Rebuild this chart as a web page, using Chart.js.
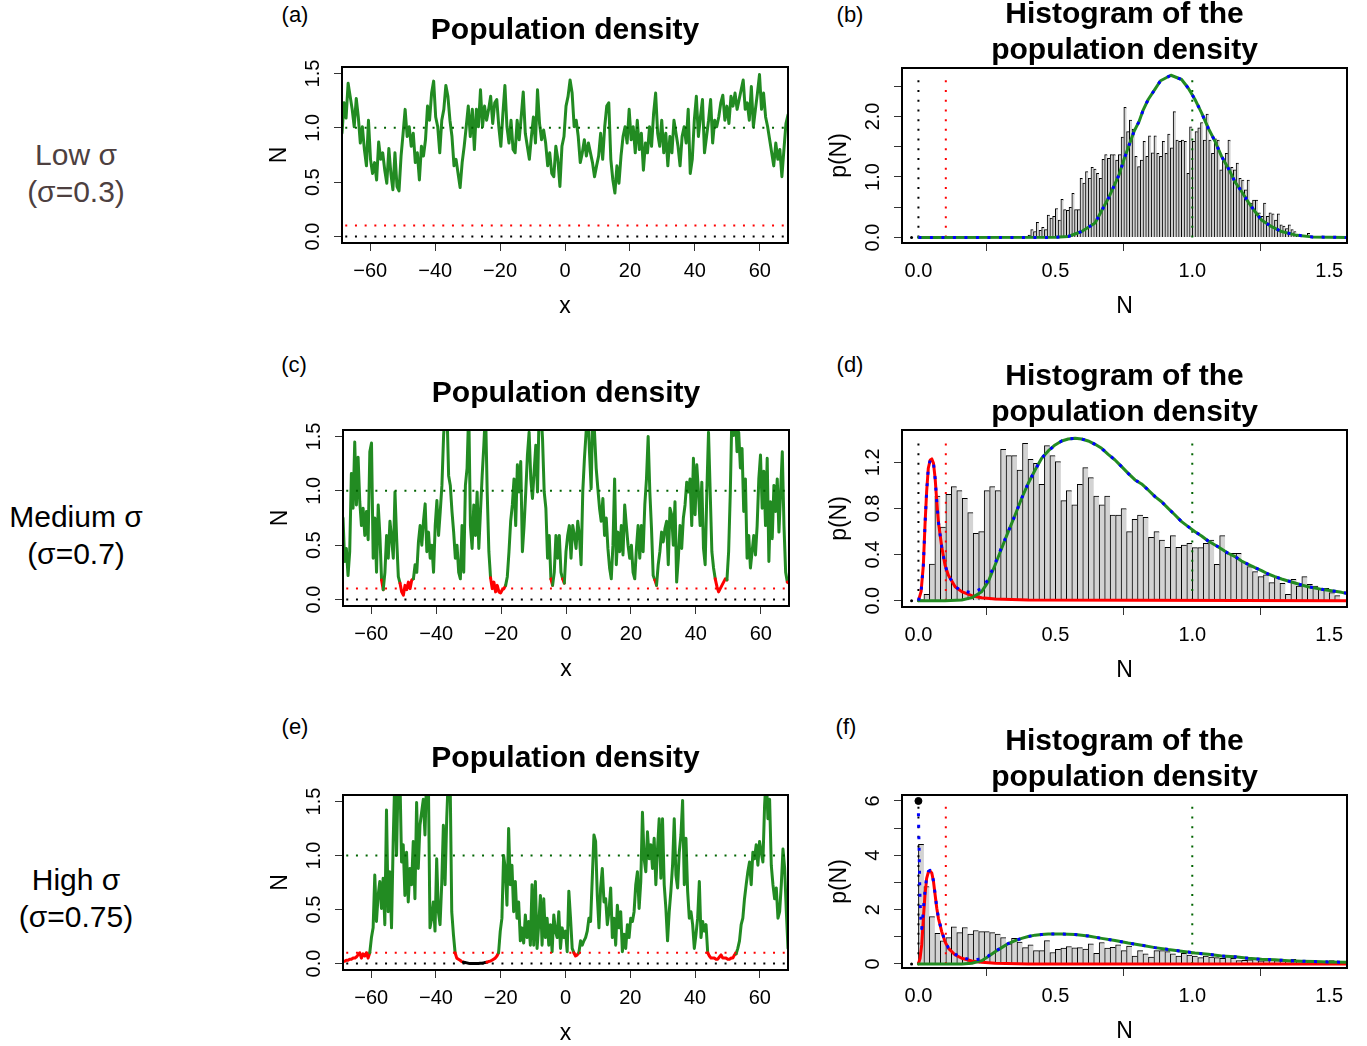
<!DOCTYPE html>
<html>
<head>
<meta charset="utf-8">
<title>Population density</title>
<script src="https://cdn.jsdelivr.net/npm/chart.js@4.4.1/dist/chart.umd.min.js"></script>
<style>
  body { margin: 0; background: #fff; }
  #page { position: relative; width: 1367px; height: 1046px; overflow: hidden; background: #fff;
          font-family: "Liberation Sans", Arial, Helvetica, sans-serif; color: #000; }
  #page canvas { position: absolute; }
  .txt { position: absolute; transform: translate(-50%, -50%); white-space: nowrap; text-align: center; }
  .row { font-size: 30px; line-height: 37px; }
  .tag { font-size: 22px; }
</style>
</head>
<body>
<div id="page">
  <div class="txt row" style="left:76px;top:173px;color:#4d4040">Low σ<br>(σ=0.3)</div>
  <div class="txt row" style="left:76px;top:535px">Medium σ<br>(σ=0.7)</div>
  <div class="txt row" style="left:76px;top:898px">High σ<br>(σ=0.75)</div>

  <div class="txt tag" style="left:295px;top:15px">(a)</div>
  <div class="txt tag" style="left:850px;top:15px">(b)</div>
  <div class="txt tag" style="left:294px;top:365px">(c)</div>
  <div class="txt tag" style="left:850px;top:365px">(d)</div>
  <div class="txt tag" style="left:295px;top:727px">(e)</div>
  <div class="txt tag" style="left:846px;top:727px">(f)</div>

  <canvas id="chartA" width="550" height="335" style="left:250px;top:0px"></canvas>
  <canvas id="chartB" width="557" height="335" style="left:810px;top:0px"></canvas>
  <canvas id="chartC" width="550" height="358" style="left:251px;top:340px"></canvas>
  <canvas id="chartD" width="557" height="359" style="left:810px;top:340px"></canvas>
  <canvas id="chartE" width="549" height="362" style="left:251px;top:700px"></canvas>
  <canvas id="chartF" width="557" height="360" style="left:810px;top:700px"></canvas>
</div>

<script>
// ---- axes ----
const spaceRange = [-68.7, 68.7];
const spaceTicks = [-60, -40, -20, 0, 20, 40, 60];
const densityTicks = [0, 0.5, 1, 1.5];
const nRange = [-0.06, 1.565];
const nTicks = [0, 0.5, 1, 1.5];
const guideLevels = [0, 0.1, 1];             // extinction, threshold, carrying capacity
const guideColors = ['#000000', '#FF0000', '#006400'];

// ---- (a) low sigma, population density along x ----
const lowSigmaN = [
  0.95,1.23,1.09,1.41,1.29,1.17,1.01,1.27,1.10,0.86,1.01,0.80,0.65,1.07,0.71,0.58,0.68,0.52,0.87,0.71,
  0.77,0.61,0.49,0.81,0.58,0.43,0.77,0.46,0.42,0.74,0.95,1.17,0.92,1.01,0.83,0.95,0.68,0.77,0.52,0.83,
  0.74,0.89,1.20,1.07,1.32,1.43,1.10,1.01,0.77,1.07,1.17,1.39,1.29,1.07,0.92,0.65,0.71,0.58,0.45,0.68,
  0.83,1.01,1.20,0.92,1.17,0.80,1.17,1.01,1.35,1.01,1.20,1.07,1.17,1.29,1.04,1.23,1.26,1.01,0.83,1.13,
  1.39,1.01,0.86,1.07,0.80,0.77,1.07,0.89,1.10,1.33,0.95,0.83,0.71,0.92,1.10,0.86,1.35,1.04,0.89,0.98,
  0.86,0.65,0.77,0.58,0.55,0.83,0.71,0.46,0.83,0.92,1.20,1.29,1.44,1.32,1.01,1.07,0.92,0.68,0.77,0.89,
  0.74,0.86,0.77,0.68,0.55,0.65,0.74,0.95,0.71,1.01,1.20,1.23,0.71,0.52,0.40,0.65,0.49,0.74,0.92,1.01,
  0.86,1.17,0.89,1.01,0.77,1.07,0.80,0.95,0.61,0.86,0.77,1.01,0.83,1.13,1.32,0.95,0.83,1.07,0.77,0.95,
  0.65,0.92,0.77,1.07,0.95,0.83,0.65,0.92,1.01,0.86,1.17,0.58,0.71,1.07,1.29,0.92,1.10,1.26,0.77,0.92,
  1.07,1.26,0.86,1.07,1.01,1.10,1.23,1.30,1.07,1.20,1.04,1.29,1.20,1.32,1.17,1.26,1.35,1.44,1.17,1.23,
  1.07,1.38,1.01,1.17,1.32,1.49,1.17,1.32,1.10,1.01,0.89,0.77,0.65,0.86,0.71,0.80,0.55,0.80,1.04,1.12
];

// ---- (c) medium sigma ----
const mediumSigmaN = [
  0.75,0.35,0.47,0.22,0.44,1.16,0.84,1.45,0.87,1.31,0.90,0.68,0.84,0.59,0.81,0.55,1.36,1.44,0.38,0.75,
  0.25,0.87,0.59,0.18,0.09,0.25,0.59,0.38,0.72,0.56,0.38,0.99,0.56,0.21,0.15,0.07,0.04,0.13,0.09,0.16,
  0.10,0.18,0.19,0.32,0.25,0.53,0.68,0.50,0.72,0.88,0.44,0.62,0.38,0.50,0.25,0.68,0.91,0.59,0.81,1.05,
  1.51,1.75,1.75,1.14,1.05,0.81,0.62,0.38,0.50,0.25,0.19,0.68,0.25,1.05,1.21,1.75,0.68,0.47,0.87,0.59,
  0.99,0.47,0.81,1.14,1.42,1.75,0.99,0.44,0.20,0.10,0.16,0.07,0.13,0.07,0.06,0.09,0.10,0.13,0.21,0.44,
  0.72,0.87,1.11,0.68,1.24,0.99,1.27,0.44,0.68,0.99,1.33,1.54,1.11,0.93,1.18,1.42,0.99,1.75,1.75,1.48,
  0.99,0.84,0.38,0.59,0.19,0.13,0.25,0.59,0.38,0.59,0.25,0.19,0.15,0.44,0.59,0.68,0.38,0.68,0.59,0.47,
  0.72,0.59,0.32,0.99,1.30,1.54,1.75,1.36,1.02,1.75,1.54,1.21,1.02,0.84,0.72,0.93,0.59,0.75,0.47,0.29,
  0.19,0.50,1.11,0.32,0.62,0.44,0.68,0.41,0.87,0.68,0.50,0.38,0.50,0.25,0.19,0.47,0.68,0.38,0.68,0.44,
  0.87,1.11,1.50,0.99,0.65,0.22,0.18,0.13,0.32,0.44,0.62,0.53,0.65,0.72,0.32,0.84,0.78,0.50,0.90,0.16,
  0.38,0.68,0.47,0.75,0.87,1.08,0.99,1.11,0.68,1.30,0.78,1.24,0.99,0.68,1.08,0.47,0.32,0.99,1.54,0.99,
  0.44,0.29,0.19,0.12,0.07,0.10,0.13,0.16,0.19,0.18,0.44,0.99,1.75,1.51,1.75,1.36,1.54,1.21,1.39,0.81,
  1.11,0.38,0.59,0.29,0.44,0.59,0.41,0.68,1.11,1.33,0.84,1.18,0.68,1.30,0.35,0.90,0.56,1.05,0.81,1.11,
  0.62,0.99,1.36,0.68,0.25,0.16,0.15
];

// ---- (e) high sigma ----
const highSigmaN = [
  0.02,0.02,0.03,0.03,0.04,0.04,0.05,0.05,0.06,0.08,0.10,0.05,0.09,0.07,0.10,0.05,0.10,0.24,0.33,0.82,
  0.39,0.63,0.76,0.51,0.79,0.36,1.42,0.48,0.85,0.33,1.13,1.75,1.00,1.75,1.75,0.94,1.10,0.63,1.03,0.57,
  0.88,0.73,1.13,0.60,1.49,0.88,1.28,1.40,1.52,1.19,1.75,1.75,0.33,0.42,0.57,0.30,0.97,0.48,0.36,0.73,
  1.28,0.73,1.34,1.75,1.75,0.48,0.27,0.10,0.05,0.04,0.03,0.018,0.012,0.009,0.006,0.003,0.001,0.001,0.001,0.001,
  0.001,0.001,0.003,0.003,0.006,0.009,0.012,0.018,0.022,0.03,0.04,0.05,0.07,0.10,0.30,0.42,1.00,0.88,0.54,1.25,
  0.73,0.91,0.48,0.76,0.42,0.57,0.21,0.33,0.19,0.45,0.24,0.39,0.17,0.73,0.17,0.76,0.14,0.36,0.63,0.17,
  0.60,0.24,0.42,0.17,0.36,0.11,0.45,0.30,0.24,0.48,0.14,0.33,0.24,0.30,0.11,0.67,0.42,0.14,0.10,0.07,
  0.08,0.10,0.21,0.17,0.21,0.24,0.30,0.42,0.39,0.79,1.19,1.13,0.63,0.33,0.70,0.88,0.57,0.60,0.36,0.48,
  0.70,0.24,0.42,0.17,0.54,0.33,0.48,0.11,0.27,0.14,0.36,0.24,0.42,0.39,0.48,0.73,0.85,0.51,0.76,1.40,
  0.97,0.85,1.22,0.97,1.10,0.88,1.16,0.73,1.06,1.34,0.79,1.34,0.73,0.51,0.21,0.48,0.67,0.91,1.34,0.82,
  0.70,1.03,1.19,1.51,0.73,1.16,0.67,0.42,0.48,0.36,0.14,0.27,0.42,0.76,0.24,0.39,0.30,0.36,0.10,0.07,
  0.05,0.05,0.05,0.04,0.04,0.06,0.08,0.05,0.05,0.05,0.04,0.04,0.05,0.05,0.08,0.09,0.14,0.21,0.36,0.42,
  0.60,0.73,0.85,0.94,0.73,1.03,0.97,1.10,0.91,1.13,1.03,0.94,1.46,1.75,1.34,1.52,0.91,0.73,0.60,0.70,
  0.42,0.48,0.73,1.06,0.88,0.48,0.14
];

// ---- (b) histogram, low sigma ----
const histLowStart = 0.40, histLowWidth = 0.01;
const histLowP = [
  0.04,0.13,0.10,0.25,0.12,0.17,0.13,0.37,0.32,0.35,0.48,0.29,0.63,0.46,0.45,0.50,0.73,0.46,0.46,0.98,
  0.90,1.09,0.98,1.16,1.13,1.06,0.98,1.29,1.37,1.31,1.37,1.37,1.28,1.37,1.66,2.15,1.75,1.94,1.79,1.34,
  1.17,1.28,1.59,1.34,1.68,1.40,1.68,1.39,1.34,1.59,1.39,1.71,1.48,2.08,1.61,1.59,1.61,1.59,1.06,1.83,
  1.59,1.75,1.81,1.90,1.61,2.04,1.61,1.39,1.63,1.61,1.12,1.27,1.39,1.61,1.16,1.12,1.23,0.98,0.95,0.79,
  0.95,0.57,0.62,0.62,0.41,0.35,0.57,0.35,0.41,0.39,0.29,0.39,0.21,0.19,0.15,0.21,0.13,0.10,0.04,0.04,
  0.03,0.02,0.07,0.03,0.02
];
const fitLowN = [0, 0.5, 0.547, 0.596, 0.645, 0.696, 0.714, 0.732, 0.752, 0.771, 0.788, 0.805, 0.821, 0.839,
  0.864, 0.884, 0.922, 0.961, 0.985, 1.010, 1.034, 1.058, 1.083, 1.107, 1.131, 1.156, 1.180, 1.204, 1.229,
  1.253, 1.290, 1.326, 1.375, 1.436, 1.563];
const fitLowP = [0, 0.003, 0.017, 0.10, 0.24, 0.67, 0.85, 1.03, 1.31, 1.55, 1.76, 1.91, 2.11, 2.28,
  2.45, 2.59, 2.68, 2.61, 2.47, 2.28, 2.06, 1.81, 1.59, 1.34, 1.15, 0.92, 0.76, 0.59, 0.43,
  0.29, 0.18, 0.099, 0.044, 0.011, 0];

// ---- (d) histogram, medium sigma ----
const histMedStart = 0, histMedWidth = 0.02;
const histMedP = [
  0.01,0.055,0.318,0.908,0.639,0.922,0.989,0.954,0.888,0.763,0.584,0.598,0.954,0.989,0.954,1.313,1.258,1.258,1.133,1.365,
  1.226,1.191,1.009,1.344,1.258,1.206,0.867,0.954,0.830,1.009,1.154,1.067,0.908,0.830,0.908,0.743,0.743,0.798,0.598,0.705,
  0.743,0.723,0.549,0.598,0.526,0.463,0.564,0.463,0.483,0.497,0.460,0.460,0.497,0.526,0.315,0.564,0.411,0.411,0.411,0.332,
  0.295,0.252,0.208,0.223,0.156,0.202,0.150,0.055,0.185,0.127,0.208,0.142,0.127,0.107,0.107,0.069,0.043
];
const fitMedGreenN = [0, 0.097, 0.158, 0.195, 0.231, 0.255, 0.280, 0.304, 0.328, 0.353, 0.377, 0.401, 0.426, 0.450,
  0.474, 0.499, 0.523, 0.547, 0.572, 0.596, 0.620, 0.645, 0.669, 0.693, 0.718, 0.742, 0.766, 0.791, 0.815, 0.839,
  0.864, 0.888, 0.912, 0.937, 0.961, 0.985, 1.010, 1.034, 1.058, 1.083, 1.107, 1.131, 1.156, 1.180, 1.204, 1.229,
  1.253, 1.277, 1.302, 1.326, 1.350, 1.375, 1.399, 1.423, 1.448, 1.472, 1.496, 1.521, 1.545, 1.563];
const fitMedGreenP = [0, 0, 0.006, 0.026, 0.078, 0.165, 0.309, 0.455, 0.599, 0.743, 0.888, 1.018, 1.133, 1.235,
  1.298, 1.350, 1.385, 1.402, 1.408, 1.402, 1.385, 1.356, 1.321, 1.269, 1.220, 1.162, 1.104, 1.047, 1.012, 0.960,
  0.902, 0.858, 0.800, 0.743, 0.685, 0.642, 0.598, 0.561, 0.517, 0.483, 0.448, 0.411, 0.382, 0.344, 0.315, 0.286,
  0.260, 0.231, 0.208, 0.188, 0.171, 0.153, 0.136, 0.121, 0.110, 0.098, 0.090, 0.081, 0.072, 0.064];
const fitMedRedN = [0, 0.0097, 0.018, 0.024, 0.030, 0.036, 0.043, 0.049, 0.055, 0.061, 0.067, 0.073, 0.085,
  0.097, 0.109, 0.134, 0.158, 0.195, 0.231, 0.280, 0.401, 1.563];
const fitMedRedP = [0, 0.078, 0.309, 0.658, 0.947, 1.148, 1.220, 1.229, 1.191, 1.061, 0.859, 0.682, 0.468,
  0.309, 0.223, 0.121, 0.078, 0.043, 0.026, 0.014, 0.006, 0];
const mixMedN = [0, 0.0097, 0.018, 0.024, 0.030, 0.036, 0.043, 0.049, 0.055, 0.061, 0.067, 0.073, 0.085, 0.097,
  0.109, 0.134, 0.158, 0.195, 0.231, 0.255, 0.280, 0.304, 0.328, 0.353, 0.377, 0.401, 0.426, 0.450, 0.474, 0.499,
  0.523, 0.547, 0.572, 0.596, 0.620, 0.645, 0.669, 0.693, 0.718, 0.742, 0.766, 0.791, 0.815, 0.839, 0.864, 0.888,
  0.912, 0.937, 0.961, 0.985, 1.010, 1.034, 1.058, 1.083, 1.107, 1.131, 1.156, 1.180, 1.204, 1.229, 1.253, 1.277,
  1.302, 1.326, 1.350, 1.375, 1.399, 1.423, 1.448, 1.472, 1.496, 1.521, 1.545, 1.563];
const mixMedP = [0, 0.078, 0.309, 0.658, 0.947, 1.148, 1.220, 1.229, 1.191, 1.061, 0.859, 0.682, 0.468, 0.309,
  0.223, 0.121, 0.084, 0.069, 0.104, 0.185, 0.323, 0.465, 0.599, 0.743, 0.888, 1.018, 1.133, 1.235, 1.298, 1.350,
  1.385, 1.402, 1.408, 1.402, 1.385, 1.356, 1.321, 1.269, 1.220, 1.162, 1.104, 1.047, 1.012, 0.960, 0.902, 0.858,
  0.800, 0.743, 0.685, 0.642, 0.598, 0.561, 0.517, 0.483, 0.448, 0.411, 0.382, 0.344, 0.315, 0.286, 0.260, 0.231,
  0.208, 0.188, 0.171, 0.153, 0.136, 0.121, 0.110, 0.098, 0.090, 0.081, 0.072, 0.064];

// ---- (f) histogram, high sigma ----
const histHighStart = 0, histHighWidth = 0.02;
const histHighP = [
  4.40,2.85,1.74,1.13,0.85,0.97,1.37,1.15,1.34,1.10,1.23,1.19,1.19,1.15,1.10,0.97,0.74,0.94,0.80,0.60,
  0.70,0.49,0.49,0.86,0.42,0.54,0.58,0.64,0.59,0.60,0.55,0.74,0.39,0.79,0.58,0.61,0.70,0.49,0.66,0.29,
  0.49,0.37,0.25,0.49,0.49,0.45,0.37,0.29,0.39,0.33,0.29,0.23,0.29,0.25,0.23,0.21,0.29,0.21,0.12,0.13,
  0.15,0.21,0.11,0.12,0.17,0.12,0.09,0.09,0.17,0.12,0.09,0.06,0.09,0.09,0.06,0.12,0.06
];
const fitHighGreenN = [0, 0.158, 0.195, 0.231, 0.255, 0.280, 0.304, 0.328, 0.353, 0.377, 0.401, 0.426, 0.450, 0.474,
  0.523, 0.572, 0.620, 0.669, 0.718, 0.766, 0.815, 0.864, 0.912, 0.961, 1.010, 1.058, 1.107, 1.156, 1.204, 1.253,
  1.302, 1.350, 1.399, 1.448, 1.496, 1.563];
const fitHighGreenP = [0, 0, 0.025, 0.12, 0.27, 0.45, 0.60, 0.75, 0.86, 0.94, 1.01, 1.06, 1.08, 1.10,
  1.10, 1.08, 1.03, 0.94, 0.86, 0.77, 0.69, 0.60, 0.53, 0.47, 0.40, 0.36, 0.29, 0.26, 0.21, 0.17,
  0.15, 0.12, 0.098, 0.086, 0.074, 0.061];
const fitHighRedN = [0, 0.006, 0.012, 0.018, 0.024, 0.030, 0.036, 0.043, 0.049, 0.055, 0.061, 0.067, 0.073, 0.085,
  0.097, 0.109, 0.134, 0.158, 0.195, 0.231, 0.28, 0.40, 1.563];
const fitHighRedP = [0, 0.21, 0.70, 1.68, 2.54, 3.15, 3.37, 3.42, 3.34, 3.03, 2.54, 2.05, 1.68, 1.19,
  0.82, 0.58, 0.33, 0.21, 0.11, 0.06, 0.025, 0, 0];
const mixHighN = [0, 0.002, 0.004, 0.006, 0.009, 0.012, 0.015, 0.018, 0.024, 0.030, 0.036, 0.043, 0.049, 0.055,
  0.061, 0.067, 0.073, 0.085, 0.097, 0.109, 0.134, 0.158, 0.195, 0.231, 0.255, 0.280, 0.304, 0.328, 0.353, 0.377,
  0.401, 0.426, 0.450, 0.474, 0.523, 0.572, 0.620, 0.669, 0.718, 0.766, 0.815, 0.864, 0.912, 0.961, 1.010, 1.058,
  1.107, 1.156, 1.204, 1.253, 1.302, 1.350, 1.399, 1.448, 1.496, 1.563];
const mixHighP = [5.55, 4.5, 3.3, 2.3, 1.6, 1.3, 1.6, 2.0, 2.7, 3.2, 3.4, 3.45, 3.36, 3.05,
  2.56, 2.07, 1.70, 1.21, 0.84, 0.60, 0.36, 0.24, 0.14, 0.18, 0.29, 0.47, 0.60, 0.75, 0.86, 0.94,
  1.01, 1.06, 1.08, 1.10, 1.10, 1.08, 1.03, 0.94, 0.86, 0.77, 0.69, 0.60, 0.53, 0.47, 0.40, 0.36,
  0.29, 0.26, 0.21, 0.17, 0.15, 0.12, 0.098, 0.086, 0.074, 0.061];
const spikeHigh = [0, 6.0];   // off-scale marker at N = 0

// ---------------------------------------------------------------
Chart.defaults.font.family = '"Liberation Sans", Arial, Helvetica, sans-serif';
Chart.defaults.color = '#000';
Chart.defaults.animation = false;
Chart.defaults.elements.point.radius = 0;
Chart.defaults.elements.line.tension = 0;
Chart.defaults.elements.line.borderJoinStyle = 'round';
Chart.defaults.elements.line.borderCapStyle = 'round';

const GREEN = '#228B22', RED = '#FF0000', BLUE = '#0000FF';

function fmt(v, d) {
  const s = Math.abs(v).toFixed(d);
  return v < 0 ? '\u2212' + s : s;
}
function zip(xs, ys) { return xs.map((x, i) => ({ x: x, y: ys[i] })); }

// box, rotated y labels and main title, R style
const rFrame = {
  id: 'rFrame',
  afterDraw(chart, args, o) {
    const { ctx, chartArea: a } = chart;
    const ys = chart.scales.y;
    ctx.save();
    ctx.strokeStyle = '#000';
    ctx.lineWidth = 2;
    ctx.strokeRect(a.left, a.top, a.right - a.left, a.bottom - a.top);
    ctx.fillStyle = '#000';
    ctx.textAlign = 'center';
    ctx.textBaseline = 'middle';
    ctx.font = '20px "Liberation Sans", Arial, sans-serif';
    o.yLabels.forEach(v => {
      ctx.save();
      ctx.translate(a.left - 29, ys.getPixelForValue(v));
      ctx.rotate(-Math.PI / 2);
      ctx.fillText(fmt(v, o.yDigits), 0, 0);
      ctx.restore();
    });
    ctx.font = 'bold 30px "Liberation Sans", Arial, sans-serif';
    const cx = (a.left + a.right) / 2;
    o.title.forEach((t, i) => ctx.fillText(t, cx, a.top - o.titleGap[i]));
    ctx.restore();
  }
};
Chart.register(rFrame);

function rScales(xr, xticks, xdig, xtitle, yr, yticks, ytitle) {
  return {
    x: {
      type: 'linear', min: xr[0], max: xr[1], offset: false,
      afterBuildTicks: s => { s.ticks = xticks.map(v => ({ value: v })); },
      afterFit: s => { s.height = 92; },
      grid: { drawOnChartArea: false, drawTicks: true, tickLength: 8, color: '#333', lineWidth: 1 },
      border: { display: false },
      ticks: { callback: v => fmt(v, xdig), font: { size: 20 }, color: '#000', padding: 8,
               maxRotation: 0, autoSkip: false },
      title: { display: true, text: xtitle, font: { size: 23 }, color: '#000', padding: { top: 0, bottom: 15 } }
    },
    y: {
      type: 'linear', min: yr[0], max: yr[1],
      afterBuildTicks: s => { s.ticks = yticks.map(v => ({ value: v })); },
      afterFit: s => { s.width = 92; },
      grid: { drawOnChartArea: false, drawTicks: true, tickLength: 8, color: '#333', lineWidth: 1 },
      border: { display: false },
      ticks: { color: 'rgba(0,0,0,0)', font: { size: 20 } },
      title: { display: true, text: ytitle, font: { size: 23 }, color: '#000', padding: { top: 16, bottom: 0 } }
    }
  };
}

function baseOptions(pad, scales, frame) {
  return {
    responsive: false,
    events: [],
    layout: { autoPadding: false, padding: { top: pad.top, right: pad.right, left: 0, bottom: 0 } },
    plugins: { legend: { display: false }, tooltip: { enabled: false }, rFrame: frame },
    scales: scales
  };
}

function seriesChart(id, values, pad, redBelow) {
  const n = values.length;
  const step = (spaceRange[1] - spaceRange[0]) / (n - 1);
  const trace = values.map((v, i) => ({ x: spaceRange[0] + i * step, y: v }));
  const guides = guideLevels.map((lv, k) => ({
    type: 'line',
    data: [{ x: spaceRange[0] + 1, y: lv }, { x: spaceRange[1] - 0.5, y: lv }],
    borderColor: guideColors[k], borderWidth: 2, borderDash: [2, 7.7], borderCapStyle: 'butt', order: 1
  }));
  return new Chart(document.getElementById(id), {
    type: 'line',
    data: {
      datasets: [
        ...guides,
        {
          data: trace, borderWidth: 3, borderColor: GREEN, clip: 0, order: 5,
          segment: {
            borderColor: c => {
              const a = c.p0.parsed.y, b = c.p1.parsed.y;
              if (a < 0.0125 && b < 0.0125) return '#000000';
              if (a < redBelow && b < redBelow) return RED;
              return GREEN;
            }
          }
        }
      ]
    },
    options: baseOptions(pad,
      rScales(spaceRange, spaceTicks, 0, 'x', [-0.06, 1.56], densityTicks, 'N'),
      { yLabels: densityTicks, yDigits: 1, title: ['Population density'], titleGap: [36] })
  });
}

function histChart(id, h, pad) {
  const bars = h.p.map((c, i) => ({ x: h.start + (i + 0.5) * h.width, y: c }));
  const vLines = guideLevels.map((lv, k) => ({
    type: 'line', data: [{ x: lv, y: 0 }, { x: lv, y: h.guideTop }],
    borderColor: guideColors[k], borderWidth: 2, borderDash: [2, 7.7], borderCapStyle: 'butt', order: 6
  }));
  const ds = [
    { type: 'line', data: [{ x: -0.025, y: 0 }], showLine: false, pointRadius: 1.5,
      pointBackgroundColor: '#000', pointBorderWidth: 0, order: 0 },
    { type: 'line', data: zip(h.blueN, h.blueP), borderColor: BLUE, borderWidth: 3,
      borderDash: [3, 8.5], borderCapStyle: 'butt', order: 1 },
    { type: 'line', data: zip(h.greenN, h.greenP), borderColor: GREEN, borderWidth: 3, order: 3 },
    ...vLines,
    { type: 'bar', data: bars, backgroundColor: '#D3D3D3', borderColor: '#000',
      borderWidth: { top: 1, left: 1, right: 0, bottom: 0 }, borderSkipped: false,
      barPercentage: 1, categoryPercentage: 1, grouped: false, order: 10 }
  ];
  if (h.redN) {
    ds.push({ type: 'line', data: zip(h.redN, h.redP), borderColor: RED, borderWidth: 3, order: 4 });
  }
  if (h.spike) {
    ds.push({ type: 'line', data: [{ x: h.spike[0], y: h.spike[1] }], showLine: false, pointRadius: 3.5,
      pointBackgroundColor: '#000', pointBorderColor: '#000', pointBorderWidth: 1, order: 0, clip: false });
  }
  return new Chart(document.getElementById(id), {
    type: 'bar',
    data: { datasets: ds },
    options: baseOptions(pad,
      rScales(nRange, nTicks, 1, 'N', h.yRange, h.yTicks, 'p(N)'),
      { yLabels: h.yLabels, yDigits: h.yDigits, title: ['Histogram of the', 'population density'], titleGap: [53, 17] })
  });
}

seriesChart('chartA', lowSigmaN, { top: 67, right: 12 }, 0.2);
seriesChart('chartC', mediumSigmaN, { top: 90, right: 12 }, 0.205);
seriesChart('chartE', highSigmaN, { top: 95, right: 12 }, 0.105);

histChart('chartB', {
  p: histLowP, start: histLowStart, width: histLowWidth,
  greenN: fitLowN, greenP: fitLowP, blueN: fitLowN, blueP: fitLowP,
  guideTop: 2.63, yRange: [-0.09, 2.80], yTicks: [0, 0.5, 1, 1.5, 2, 2.5], yLabels: [0, 1, 2], yDigits: 1
}, { top: 68, right: 20 });

histChart('chartD', {
  p: histMedP, start: histMedStart, width: histMedWidth,
  greenN: fitMedGreenN, greenP: fitMedGreenP, redN: fitMedRedN, redP: fitMedRedP,
  blueN: mixMedN, blueP: mixMedP,
  guideTop: 1.39, yRange: [-0.055, 1.48], yTicks: [0, 0.2, 0.4, 0.6, 0.8, 1.0, 1.2, 1.4],
  yLabels: [0, 0.4, 0.8, 1.2], yDigits: 1
}, { top: 90, right: 20 });

histChart('chartF', {
  p: histHighP, start: histHighStart, width: histHighWidth,
  greenN: fitHighGreenN, greenP: fitHighGreenP, redN: fitHighRedN, redP: fitHighRedP,
  blueN: mixHighN, blueP: mixHighP, spike: spikeHigh,
  guideTop: 5.9, yRange: [-0.15, 6.22], yTicks: [0, 1, 2, 3, 4, 5, 6], yLabels: [0, 2, 4, 6], yDigits: 0
}, { top: 95, right: 20 });
</script>
</body>
</html>
